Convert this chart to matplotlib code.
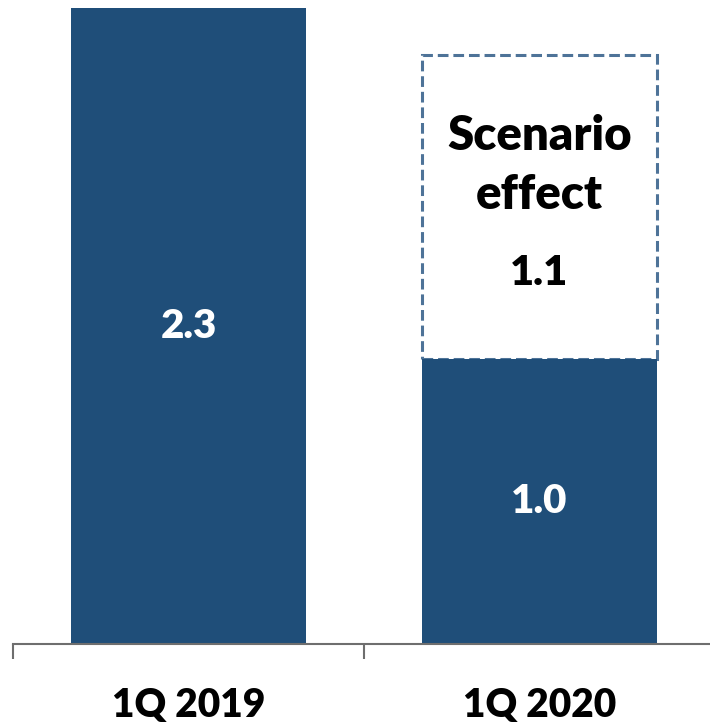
import matplotlib
matplotlib.use("Agg")
from matplotlib import pyplot as plt

quarters = ['1Q 2019', '1Q 2020']
base = [2.3, 1.03]
scenario = [0.0, 1.10]
scen_lines = ['Scenario', 'effect']

navy = '#1F4E79'
dash_col = '#4E7398'

plt.rcParams['font.family'] = ['Lato', 'DejaVu Sans']
plt.rcParams['font.weight'] = 'heavy'
w = 'heavy'

fig = plt.figure(figsize=(7.10, 7.25), dpi=100)
ax = fig.add_axes([13/710, 81/725, 702/710, 636/725])

x = list(range(len(quarters)))
ax.bar(x, base, width=0.67, color=navy, zorder=2)
ax.bar(x[1], scenario[1], bottom=base[1], width=0.67, facecolor='white',
       edgecolor=dash_col, linewidth=2.2, linestyle=(0, (3.5, 1.6)), zorder=1)

for i in x:
    ax.text(i, base[i] / 2, f'{base[i]:.1f}', ha='center', va='center',
            color='white', fontsize=29, fontweight=w)

# label inside the dashed box
ax.text(x[1], base[1] + scenario[1] * 0.734, scen_lines[0], ha='center', va='center',
        color='black', fontsize=34, fontweight=w)
ax.text(x[1], base[1] + scenario[1] * 0.54, scen_lines[1], ha='center', va='center',
        color='black', fontsize=34, fontweight=w)
ax.text(x[1], base[1] + scenario[1] * 0.284, f'{scenario[1]:.1f}', ha='center', va='center',
        color='black', fontsize=30, fontweight=w)

ax.set_xlim(-0.5, 1.5)
ax.set_ylim(0, 2.3)
ax.set_yticks([])
ax.set_xticks([-0.5, 0.5, 1.5])
ax.set_xticklabels([])
ax.set_xticks(x, minor=True)
ax.set_xticklabels(quarters, minor=True, fontsize=28, fontweight=w)
ax.tick_params(axis='x', which='major', length=11, width=1.5, color='#6E6E6E', direction='out')
ax.tick_params(axis='x', which='minor', length=0, pad=31)
for s in ['top', 'right', 'left']:
    ax.spines[s].set_visible(False)
ax.spines['bottom'].set_color('#6E6E6E')
ax.spines['bottom'].set_linewidth(1.5)
ax.patch.set_alpha(0)

fig.savefig('out.png', dpi=100)
